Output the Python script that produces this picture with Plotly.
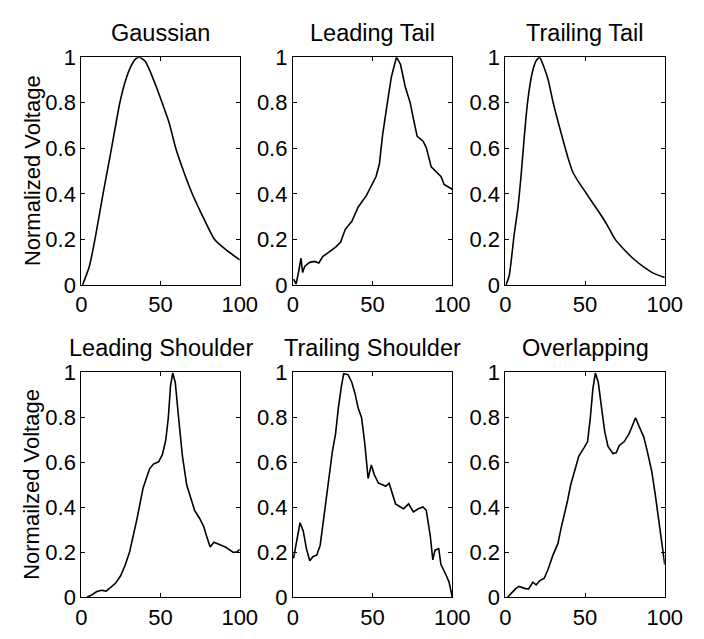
import plotly.graph_objects as go

# ---------------- data ----------------
titles = ["Gaussian", "Leading Tail", "Trailing Tail",
          "Leading Shoulder", "Trailing Shoulder", "Overlapping"]
ylabels = ["Normalized Voltage", "Normailzed Voltage"]
x_ticks = [0, 50, 100]
y_ticks = [0, 0.2, 0.4, 0.6, 0.8, 1]
y_tick_text = ["0", "0.2", "0.4", "0.6", "0.8", "1"]

gauss_x = [0.8, 5, 8.6, 13.7, 18.8, 24.3, 28, 31, 34, 36.5, 40.2, 43.3, 47.3, 51, 55.5, 59.6, 65, 70, 76, 84, 92, 100]
gauss_y = [0.0, 0.08, 0.2, 0.4, 0.59, 0.8, 0.9, 0.955, 0.99, 1.0, 0.983, 0.94, 0.87, 0.8, 0.71, 0.6, 0.49, 0.4, 0.31, 0.2, 0.15, 0.11]

ltail_x = [0.4, 2, 3.5, 5.1, 6.1, 7.5, 10.6, 13.6, 16.3, 18.7, 22.8, 26.8, 29.9, 32.9, 37, 41, 46.1, 49.2, 52.2, 54.3,
           56.3, 59.3, 61.8, 65, 67.5, 70.5, 73.6, 75.6, 78, 81.7, 83.7, 86.8, 89.8, 92.9, 94.9, 98, 100]
ltail_y = [0.025, 0.004, 0.054, 0.117, 0.054, 0.082, 0.099, 0.103, 0.096, 0.124, 0.145, 0.166, 0.187, 0.244, 0.279,
           0.342, 0.392, 0.434, 0.476, 0.532, 0.659, 0.8, 0.913, 1.0, 0.969, 0.87, 0.8, 0.73, 0.652, 0.631, 0.603,
           0.518, 0.497, 0.476, 0.441, 0.427, 0.42]

ttail_x = [0.4, 2.4, 5.5, 7.8, 9.8, 11.8, 13.9, 16.7, 19.2, 21.4, 23.9, 26.9, 30, 33.1, 36.1, 39.2, 42.2, 46.3, 50.4,
           54.5, 58.6, 63.7, 68.8, 74.9, 80, 86.1, 92.2, 100]
ttail_y = [0.0, 0.04, 0.22, 0.335, 0.476, 0.645, 0.8, 0.927, 0.983, 1.0, 0.962, 0.899, 0.8, 0.715, 0.638, 0.56, 0.497,
           0.448, 0.406, 0.363, 0.321, 0.265, 0.201, 0.152, 0.117, 0.082, 0.054, 0.032]

lshoulder_x = [3.5, 6.5, 9.5, 12.6, 15.7, 18.7, 21.7, 24.8, 27.8, 30.5, 32.9, 35, 37, 39, 41, 43.1, 45.5, 48.8, 51.2,
               53.3, 54.9, 56.3, 57.7, 59.3, 61.4, 63.8, 66.5, 69.5, 71.5, 74.6, 77.2, 79.3, 81.3, 83.7, 87.8, 90.9,
               93.9, 95.9, 98.4, 100]
lshoulder_y = [0.0, 0.01, 0.024, 0.031, 0.027, 0.045, 0.063, 0.095, 0.145, 0.202, 0.273, 0.344, 0.415, 0.486, 0.528,
               0.571, 0.592, 0.602, 0.635, 0.699, 0.798, 0.94, 0.997, 0.955, 0.798, 0.628, 0.5, 0.436, 0.386, 0.351,
               0.315, 0.266, 0.223, 0.244, 0.233, 0.223, 0.209, 0.199, 0.202, 0.213]

tshoulder_x = [0.4, 2, 4.5, 6.5, 8.5, 10.6, 12.6, 15, 17.1, 18.7, 20.7, 22.8, 24.8, 26.8, 28.5, 30.5, 31.9, 34.6, 37,
               39, 41, 43.1, 45.1, 47.2, 49.2, 51.2, 53.7, 56.3, 58.3, 60.4, 62.4, 64.4, 67.5, 69.5, 72.6, 75.6, 78.7,
               81.7, 83.7, 86.2, 87.8, 89.2, 91.5, 92.9, 95.9, 98, 100]
tshoulder_y = [0.173, 0.23, 0.331, 0.295, 0.216, 0.162, 0.18, 0.188, 0.23, 0.315, 0.429, 0.543, 0.649, 0.727, 0.84,
               0.94, 0.994, 0.99, 0.955, 0.905, 0.84, 0.798, 0.685, 0.528, 0.588, 0.543, 0.507, 0.5, 0.493, 0.507,
               0.457, 0.415, 0.401, 0.393, 0.415, 0.379, 0.393, 0.401, 0.386, 0.273, 0.166, 0.209, 0.216, 0.145,
               0.102, 0.067, 0.0]

overlap_x = [1.4, 3.5, 6.5, 8.5, 10.6, 12.6, 14.6, 17.3, 19.3, 21.7, 24.4, 26.8, 29.9, 32.9, 35, 37, 39, 41, 43.1,
             46.1, 49.2, 51.6, 53.3, 54.9, 56.5, 58.3, 60.4, 62.4, 64.4, 67.5, 69.5, 71.5, 74.6, 77.6, 79.7, 81.7,
             83.7, 86.8, 88.8, 91.9, 93.9, 95.9, 98, 100]
overlap_y = [0.0, 0.017, 0.038, 0.048, 0.043, 0.038, 0.037, 0.067, 0.055, 0.074, 0.084, 0.124, 0.188, 0.237, 0.308,
             0.365, 0.429, 0.5, 0.557, 0.628, 0.663, 0.692, 0.798, 0.926, 0.997, 0.955, 0.84, 0.734, 0.67, 0.639,
             0.642, 0.675, 0.692, 0.727, 0.763, 0.798, 0.763, 0.713, 0.656, 0.557, 0.464, 0.358, 0.259, 0.145]

series = [(gauss_x, gauss_y), (ltail_x, ltail_y), (ttail_x, ttail_y),
          (lshoulder_x, lshoulder_y), (tshoulder_x, tshoulder_y), (overlap_x, overlap_y)]
smooth = [True, False, True, False, False, False]

# ---------------- layout ----------------
W, H = 704, 639
col_px = [(78, 242), (297, 462), (517, 682)]
row_px = [(47, 284), (375, 609)]
FONT = "Liberation Sans, Arial, sans-serif"
FS = 22
FS_TITLE = 23.5

fig = go.Figure()
layout = dict(width=W, height=H, margin=dict(l=0, r=0, t=0, b=0),
              paper_bgcolor="white", plot_bgcolor="white", showlegend=False,
              font=dict(family=FONT, size=FS, color="black"))
annotations = []

for i, (xs, ys) in enumerate(series):
    r, c = divmod(i, 3)
    n = i + 1
    xa = "xaxis" if n == 1 else f"xaxis{n}"
    ya = "yaxis" if n == 1 else f"yaxis{n}"
    xref = "x" if n == 1 else f"x{n}"
    yref = "y" if n == 1 else f"y{n}"
    line = dict(color="black", width=1.6)
    if smooth[i]:
        line.update(shape="spline", smoothing=0.5)
    fig.add_trace(go.Scatter(x=xs, y=ys, mode="lines", xaxis=xref, yaxis=yref,
                             line=line, hoverinfo="skip"))
    x0, x1 = col_px[c]
    y0, y1 = row_px[r]
    dom_x = [x0 / W, x1 / W]
    dom_y = [1 - y1 / H, 1 - y0 / H]
    layout[xa] = dict(domain=dom_x, range=[0, 100], anchor=yref, tickvals=x_ticks,
                      ticks="inside", ticklen=4, tickcolor="black", showline=True,
                      linecolor="black", linewidth=1, mirror="ticks", showgrid=False,
                      zeroline=False, tickfont=dict(size=FS, family=FONT, color="black"))
    layout[ya] = dict(domain=dom_y, range=[0, 1], anchor=xref, tickvals=y_ticks,
                      ticktext=y_tick_text, ticks="inside", ticklen=4, tickcolor="black",
                      showline=True, linecolor="black", linewidth=1, mirror="ticks",
                      showgrid=False, zeroline=False,
                      tickfont=dict(size=FS, family=FONT, color="black"))
    annotations.append(dict(text=titles[i], xref="paper", yref="paper",
                            x=(x0 + x1) / 2 / W, y=1 - (y0 - 25) / H,
                            xanchor="center", yanchor="middle", showarrow=False,
                            font=dict(size=FS_TITLE, family=FONT, color="black")))

for r in range(2):
    y0, y1 = row_px[r]
    annotations.append(dict(text=ylabels[r], xref="paper", yref="paper",
                            x=27 / W, y=1 - (y0 + y1) / 2 / H, textangle=-90,
                            xanchor="center", yanchor="middle", showarrow=False,
                            font=dict(size=FS, family=FONT, color="black")))

layout["annotations"] = annotations
fig.update_layout(**layout)
fig.write_html("out.html")
